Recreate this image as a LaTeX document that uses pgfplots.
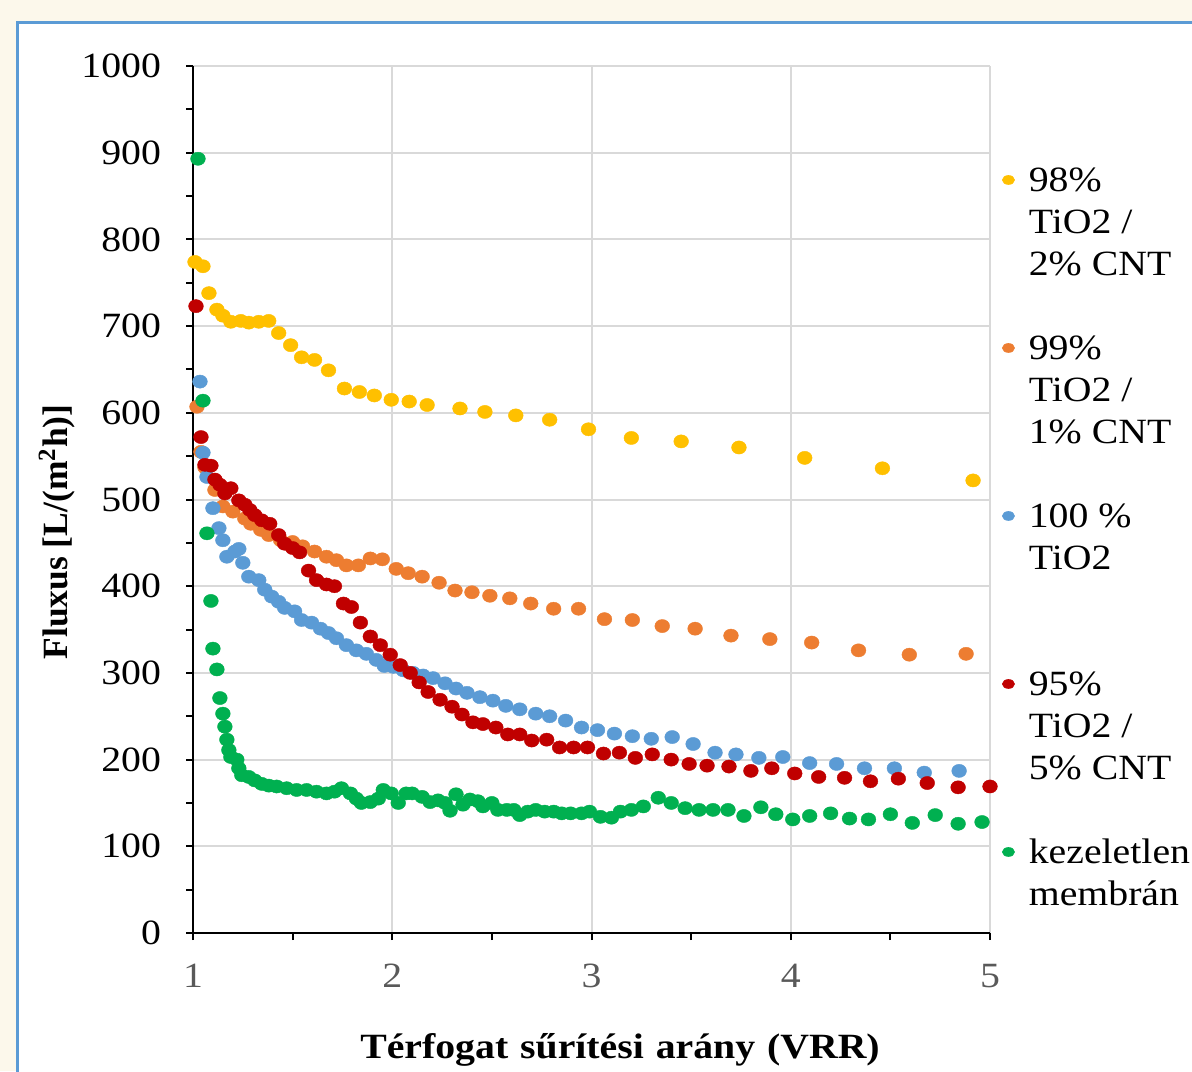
\documentclass[border=0pt]{standalone}
\usepackage{fontspec}
\setmainfont{Liberation Serif}[FakeStretch=1.12]
\newfontfamily\plainserif{Liberation Serif}
\usepackage{pgfplots}
\pgfplotsset{compat=1.18}
\definecolor{c98}{HTML}{FFC000}
\definecolor{c99}{HTML}{ED7D31}
\definecolor{c100}{HTML}{5B9BD5}
\definecolor{c95}{HTML}{C00000}
\definecolor{craw}{HTML}{00B050}
\definecolor{gridgray}{HTML}{D9D9D9}
\definecolor{tickgray}{HTML}{595959}
\definecolor{bgcream}{HTML}{FCF8EB}
\definecolor{frameblue}{HTML}{5B9BD5}
\newcommand\fs{\fontsize{17.75}{21}\selectfont}

\begin{document}
\begin{tikzpicture}
\useasboundingbox (0,0) rectangle (596pt,535.5pt);
\fill[bgcream] (0,0) rectangle (596pt,535.5pt);
\filldraw[fill=white, draw=frameblue, line width=1.5pt] (8.5pt,-10pt) rectangle (620pt,524pt);
\begin{axis}[
    at={(96.5pt,69pt)}, anchor=south west,
    scale only axis, width=398.5pt, height=433.5pt,
    xmin=1, xmax=5, ymin=0, ymax=1000,
    xtick={1,2,3,4,5}, ytick={0,100,...,1000},
    minor x tick num=1, minor y tick num=1,
    axis x line*=bottom, axis y line*=left,
    axis line style={black, line width=1pt},
    tick align=outside,
    major tick length=3.5pt, minor tick length=3.5pt,
    every tick/.style={black, line width=1pt},
    grid=major,
    major grid style={gridgray, line width=1pt},
    /pgf/number format/assume math mode=true,
    /pgf/number format/1000 sep={},
    tick label style={font=\fs},
    yticklabel style={black, xshift=-9pt},
    xticklabel style={tickgray, yshift=-8.5pt},
    xlabel={Térfogat\hspace{1pt} sűrítési\hspace{1pt} arány\hspace{1pt} (VRR)},
    every axis x label/.style={at={(axis description cs:0.5358,-0.145)}, anchor=base, font=\fs\bfseries},
    ylabel={Fluxus [L/(m\textsuperscript{2}h)]},
    every axis y label/.style={at={(axis description cs:-0.1706,0.4625)}, anchor=center, rotate=90, font=\fs\plainserif\bfseries},
    clip=false,
    legend image code/.code={\fill (0pt,6pt) ellipse (3pt and 2.2pt);},
    legend style={at={(1.0151,0.887)}, anchor=north west, draw=none, fill=none,
        inner sep=0pt, outer sep=0pt, row sep=0pt, column sep=7pt, font=\fs,
        cells={anchor=base west},
        nodes={inner sep=0pt, text height=14pt, text depth=7pt}},
    every axis plot/.append style={only marks, mark=*, mark size=3.3pt, mark options={xscale=1.12, line width=0.2pt}},
]
\addplot[color=c98] coordinates {
(1.01,774)(1.05,769)(1.08,738)(1.12,719)(1.15,712)(1.19,705)(1.24,706)(1.28,704)
(1.33,705)(1.38,706)(1.43,692)(1.49,678)(1.545,664)(1.61,661)(1.68,649)(1.76,628)
(1.835,624)(1.91,620)(1.995,615)(2.085,613)(2.175,609)(2.34,605)(2.465,601)(2.62,597)
(2.79,592)(2.985,581)(3.2,571)(3.45,567)(3.74,560)(4.07,548)(4.46,536)(4.915,522)};
\addlegendentry{98\%}
\addlegendimage{empty legend}\addlegendentry{TiO2 /}
\addlegendimage{empty legend}\addlegendentry{2\% CNT}
\addlegendimage{empty legend}\addlegendentry{~}

\addplot[color=c99] coordinates {
(1.02,607)(1.04,555)(1.06,537)(1.11,511)(1.15,492)(1.2,486)(1.26,478)(1.29,472)
(1.34,465)(1.38,459)(1.44,453)(1.5,451)(1.55,446)(1.61,440)(1.67,434)(1.72,430)
(1.77,424)(1.83,424)(1.89,432)(1.95,431)(2.02,420)(2.08,415)(2.15,411)(2.235,404)
(2.315,395)(2.40,393)(2.49,389)(2.59,386)(2.695,380)(2.81,374)(2.935,374)(3.065,362)
(3.205,361)(3.355,354)(3.52,351)(3.70,343)(3.895,339)(4.105,335)(4.34,326)(4.595,321)
(4.88,322)};
\addlegendentry{99\%}
\addlegendimage{empty legend}\addlegendentry{TiO2 /}
\addlegendimage{empty legend}\addlegendentry{1\% CNT}
\addlegendimage{empty legend}\addlegendentry{~}

\addplot[color=c100] coordinates {
(1.035,636)(1.05,554)(1.07,526)(1.10,490)(1.13,467)(1.15,453)(1.17,434)(1.21,440)
(1.23,443)(1.25,427)(1.28,411)(1.33,407)(1.36,396)(1.395,388)(1.43,382)(1.46,375)
(1.51,371)(1.545,361)(1.595,358)(1.64,351)(1.68,346)(1.72,340)(1.77,332)(1.82,326)
(1.87,322)(1.92,315)(1.96,308)(2.005,307)(2.055,303)(2.105,300)(2.155,297)(2.205,294)
(2.265,288)(2.32,282)(2.375,277)(2.44,272)(2.505,268)(2.57,262)(2.64,258)(2.72,253)
(2.79,250)(2.87,245)(2.95,237)(3.03,234)(3.115,230)(3.205,227)(3.30,224)(3.405,226)
(3.51,218)(3.62,208)(3.725,206)(3.84,202)(3.96,203)(4.095,196)(4.23,195)(4.37,190)
(4.52,190)(4.67,185)(4.845,187)};
\addlegendentry{100 \%}
\addlegendimage{empty legend}\addlegendentry{TiO2}
\addlegendimage{empty legend}\addlegendentry{~}
\addlegendimage{empty legend}\addlegendentry{~}

\addplot[color=c95] coordinates {
(1.015,723)(1.04,572)(1.06,540)(1.09,539)(1.11,523)(1.135,517)(1.16,507)(1.19,513)
(1.23,499)(1.26,494)(1.285,488)(1.31,482)(1.345,476)(1.385,472)(1.43,459)(1.46,449)
(1.50,444)(1.535,439)(1.58,418)(1.62,407)(1.67,402)(1.71,400)(1.755,380)(1.795,376)
(1.84,358)(1.89,342)(1.94,332)(1.99,321)(2.04,309)(2.09,300)(2.135,289)(2.18,278)
(2.24,269)(2.30,261)(2.35,252)(2.405,243)(2.455,241)(2.52,237)(2.58,229)(2.64,229)
(2.70,222)(2.775,223)(2.84,214)(2.91,214)(2.98,214)(3.06,207)(3.14,208)(3.22,202)
(3.305,206)(3.40,200)(3.49,195)(3.58,193)(3.69,192)(3.80,187)(3.905,190)(4.02,184)
(4.14,180)(4.27,179)(4.40,175)(4.54,178)(4.685,173)(4.84,168)(5.0,169)};
\addlegendentry{95\%}
\addlegendimage{empty legend}\addlegendentry{TiO2 /}
\addlegendimage{empty legend}\addlegendentry{5\% CNT}
\addlegendimage{empty legend}\addlegendentry{~}

\addplot[color=craw] coordinates {
(1.025,893)(1.05,614)(1.07,461)(1.09,383)(1.10,328)(1.12,304)(1.135,271)(1.15,253)
(1.16,238)(1.17,223)(1.18,211)(1.19,203)(1.22,200)(1.23,190)(1.245,182)(1.28,180)
(1.31,176)(1.345,172)(1.38,170)(1.42,169)(1.47,167)(1.52,165)(1.57,165)(1.62,163)
(1.67,161)(1.71,163)(1.745,167)(1.79,161)(1.82,155)(1.845,150)(1.89,151)(1.93,155)
(1.955,165)(1.995,161)(2.03,150)(2.07,161)(2.10,161)(2.15,157)(2.19,151)(2.23,153)
(2.265,150)(2.29,141)(2.32,160)(2.355,148)(2.39,154)(2.43,152)(2.455,146)(2.50,150)
(2.53,142)(2.575,142)(2.61,142)(2.64,136)(2.68,140)(2.72,142)(2.765,140)(2.81,140)
(2.85,138)(2.895,138)(2.95,138)(2.99,140)(3.045,134)(3.10,133)(3.145,140)(3.20,142)
(3.26,146)(3.335,156)(3.40,150)(3.47,144)(3.54,142)(3.61,142)(3.685,142)(3.765,135)
(3.85,145)(3.925,137)(4.01,131)(4.095,135)(4.20,138)(4.295,132)(4.39,131)(4.50,137)
(4.61,127)(4.725,136)(4.84,126)(4.96,128)};
\addlegendentry{kezeletlen}
\addlegendimage{empty legend}\addlegendentry{membrán}
\end{axis}
\end{tikzpicture}
\end{document}
